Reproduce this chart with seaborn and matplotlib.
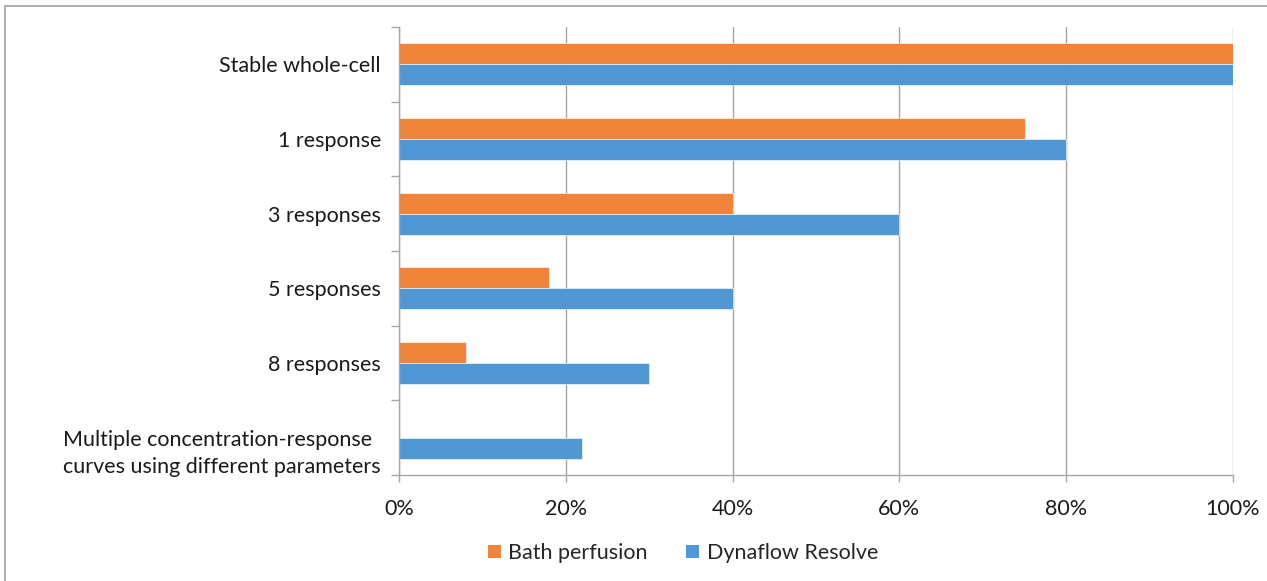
import matplotlib
matplotlib.use("Agg")
import matplotlib.pyplot as plt
import matplotlib.transforms as mtransforms
from matplotlib.patches import Rectangle
import numpy as np
import pandas as pd
import seaborn as sns

# Share of cells reaching each recording milestone (%)
categories = [
    "Stable whole-cell",
    "1 response",
    "3 responses",
    "5 responses",
    "8 responses",
    "Multiple concentration-response\ncurves using different parameters",
]
bath_perfusion = [100, 75, 40, 18, 8, 0]
dynaflow_resolve = [100, 80, 60, 40, 30, 22]
series_names = ["Bath perfusion", "Dynaflow Resolve"]
series_colors = ["#F1843B", "#5097D3"]
x_ticks = [0, 20, 40, 60, 80, 100]
x_tick_labels = ["0%", "20%", "40%", "60%", "80%", "100%"]

df = pd.DataFrame({
    "category": categories * 2,
    "value": bath_perfusion + dynaflow_resolve,
    "series": [series_names[0]] * len(categories) + [series_names[1]] * len(categories),
})

sns.set_theme(style="white")
plt.rcParams["font.family"] = ["Lato", "DejaVu Sans"]
FS = 15.5

W, H = 1267, 581
fig = plt.figure(figsize=(W / 100, H / 100), dpi=100)
ax = fig.add_axes([399 / W, 1 - 475 / H, (1233 - 399) / W, (475 - 27) / H])

sns.barplot(
    data=df, x="value", y="category", hue="series", order=categories,
    hue_order=series_names, palette=series_colors, orient="h",
    width=0.56, saturation=1, errorbar=None, ax=ax,
    edgecolor="white", linewidth=0.4, legend=False,
)

ax.set_xlim(0, 100)
ax.set_ylim(len(categories) - 0.5, -0.5)
ax.set_xlabel("")
ax.set_ylabel("")

grid_color = "#A6A6A6"
ax.set_xticks(x_ticks)
ax.set_xticklabels(x_tick_labels, fontsize=FS, color="#1a1a1a")
ax.xaxis.grid(True, color=grid_color, linewidth=1.0)
ax.set_axisbelow(True)
ax.tick_params(axis="x", which="major", length=5, width=1.0, color=grid_color,
               pad=12, bottom=True)

# category labels without tick marks, boundary ticks between groups
ax.set_yticks(np.arange(len(categories)))
ax.set_yticklabels(categories, fontsize=FS, color="#1a1a1a")
ax.tick_params(axis="y", which="major", length=0, pad=13)
ax.set_yticks(np.arange(len(categories) + 1) - 0.5, minor=True)
ax.tick_params(axis="y", which="minor", length=6, width=1.0, color=grid_color, left=True)
shift_down = mtransforms.ScaledTranslation(0, -10 / 100, fig.dpi_scale_trans)
for lbl in ax.get_yticklabels():
    if "\n" in lbl.get_text():
        lbl.set_multialignment("left")
        lbl.set_linespacing(1.45)
        lbl.set_transform(lbl.get_transform() + shift_down)

for side in ["top", "right"]:
    ax.spines[side].set_visible(False)
for side in ["left", "bottom"]:
    ax.spines[side].set_color(grid_color)
    ax.spines[side].set_linewidth(1.0)

handles = [Rectangle((0, 0), 1, 1, facecolor=c, edgecolor="none") for c in series_colors]
fig.legend(handles, series_names, loc="center", bbox_to_anchor=(683 / W, 1 - 553 / H),
           ncol=2, frameon=False, fontsize=FS, handlelength=0.6, handleheight=0.6,
           handletextpad=0.35, columnspacing=1.8)

# chart frame edge
fig.add_artist(Rectangle((5 / W, -0.5), 1.5, 1.5 - 6 / H, transform=fig.transFigure,
                         facecolor="none", edgecolor="#A0A0A0", linewidth=1.2))

fig.savefig("out.png", dpi=100, facecolor="white")
